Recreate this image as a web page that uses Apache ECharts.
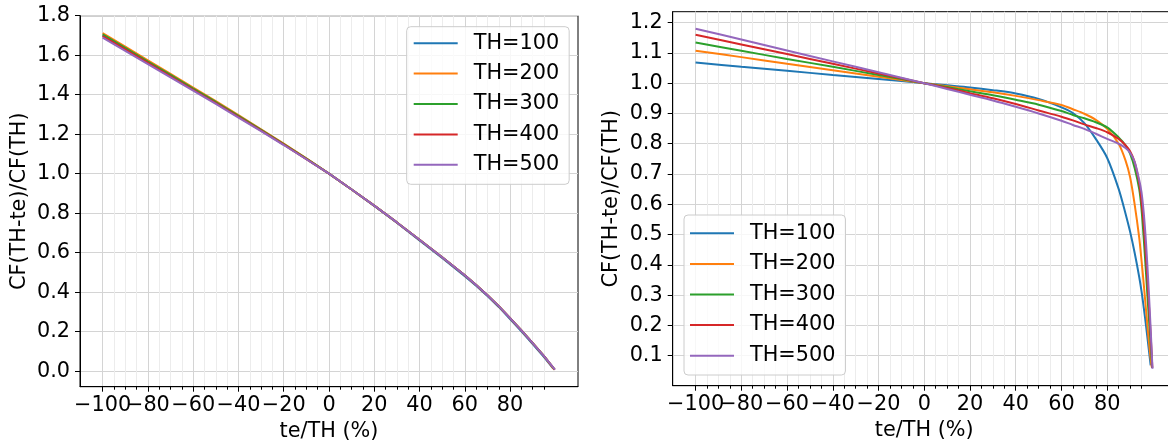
<!DOCTYPE html>
<html><head><meta charset="utf-8">
<script src="https://cdn.jsdelivr.net/npm/echarts@6/dist/echarts.min.js"></script>
<style>html,body{margin:0;padding:0;background:#fff}#c{width:1168px;height:445px}</style>
</head><body><div id="c"></div>
<script>
// ---------- data ----------
const seriesNames = ['TH=100', 'TH=200', 'TH=300', 'TH=400', 'TH=500'];
const colors = ['#1f77b4', '#ff7f0e', '#2ca02c', '#d62728', '#9467bd'];

const xMajorTicks = [-100, -80, -60, -40, -20, 0, 20, 40, 60, 80];
const xLabelsA = [-100];                                   // drawn on one axis
const xLabelsB = [-80, -60, -40, -20, 0, 20, 40, 60, 80];  // drawn on the other (they touch −100)
const xMinorTicks = [-100, -95, -90, -85, -80, -75, -70, -65, -60, -55, -50, -45, -40, -35, -30, -25, -20, -15, -10, -5,
  0, 5, 10, 15, 20, 25, 30, 35, 40, 45, 50, 55, 60, 65, 70, 75, 80, 85, 90, 95];
const yTicksLeft = [0, 0.2, 0.4, 0.6, 0.8, 1.0, 1.2, 1.4, 1.6, 1.8];
const yTicksRight = [0.1, 0.2, 0.3, 0.4, 0.5, 0.6, 0.7, 0.8, 0.9, 1.0, 1.1, 1.2];

// left panel
const leftXBase = [-100, -90, -80, -70, -60, -50, -40, -30, -20, -10, 0, 10, 20, 30, 40, 50, 60, 65, 70, 75, 80, 85, 90, 95];
const leftEndX = [99, 99.5, 99.67, 99.75, 99.8];
const leftTH100 = [1.700, 1.632, 1.564, 1.496, 1.428, 1.360, 1.290, 1.220, 1.148, 1.075, 1.0, 0.920, 0.837, 0.751, 0.662, 0.573, 0.481, 0.432, 0.380, 0.325, 0.264, 0.201, 0.137, 0.071, 0.014];
const leftTH200 = [1.712, 1.643, 1.574, 1.505, 1.436, 1.367, 1.296, 1.225, 1.152, 1.077, 1.0, 0.920, 0.838, 0.753, 0.665, 0.577, 0.485, 0.436, 0.384, 0.329, 0.268, 0.206, 0.142, 0.076, 0.008];
const leftTH300 = [1.705, 1.637, 1.568, 1.500, 1.431, 1.363, 1.293, 1.222, 1.150, 1.076, 1.0, 0.920, 0.838, 0.753, 0.665, 0.577, 0.485, 0.436, 0.384, 0.329, 0.268, 0.206, 0.142, 0.076, 0.008];
const leftTH400 = [1.697, 1.629, 1.561, 1.493, 1.425, 1.357, 1.288, 1.218, 1.147, 1.074, 1.0, 0.920, 0.838, 0.753, 0.665, 0.577, 0.485, 0.436, 0.384, 0.329, 0.268, 0.206, 0.142, 0.076, 0.008];
const leftTH500 = [1.689, 1.622, 1.555, 1.488, 1.421, 1.353, 1.284, 1.215, 1.145, 1.073, 1.0, 0.920, 0.838, 0.753, 0.665, 0.577, 0.485, 0.436, 0.384, 0.329, 0.268, 0.206, 0.142, 0.076, 0.008];

// right panel
const rightXBase = [-100, -80, -60, -40, -20, 0, 10, 20, 30, 40, 50, 60, 65, 70, 75, 80, 85, 88, 90, 92, 94, 95, 96, 97, 98];
const rightTailX = [[99], [99, 99.5], [99, 99.67], [99, 99.75], [99, 99.8]];
const rightTH100 = [1.068, 1.054, 1.041, 1.027, 1.014, 1.0, 0.993, 0.986, 0.977, 0.966, 0.948, 0.920, 0.901, 0.868, 0.816, 0.753, 0.651, 0.57, 0.51, 0.44, 0.36, 0.313, 0.258, 0.198, 0.133, 0.068];
const rightTH200 = [1.107, 1.086, 1.064, 1.043, 1.021, 1.0, 0.990, 0.980, 0.970, 0.958, 0.944, 0.928, 0.914, 0.899, 0.879, 0.849, 0.80, 0.745, 0.69, 0.60, 0.49, 0.415, 0.335, 0.25, 0.165, 0.09, 0.062];
const rightTH300 = [1.134, 1.107, 1.080, 1.054, 1.027, 1.0, 0.987, 0.973, 0.96, 0.945, 0.929, 0.908, 0.895, 0.884, 0.871, 0.854, 0.821, 0.795, 0.767, 0.72, 0.65, 0.585, 0.485, 0.37, 0.25, 0.14, 0.06];
const rightTH400 = [1.160, 1.128, 1.096, 1.064, 1.032, 1.0, 0.984, 0.967, 0.95, 0.931, 0.91, 0.889, 0.877, 0.864, 0.852, 0.838, 0.816, 0.795, 0.775, 0.74, 0.67, 0.61, 0.53, 0.42, 0.30, 0.17, 0.06];
const rightTH500 = [1.180, 1.144, 1.108, 1.072, 1.036, 1.0, 0.981, 0.962, 0.943, 0.922, 0.90, 0.876, 0.862, 0.849, 0.833, 0.816, 0.800, 0.786, 0.77, 0.74, 0.68, 0.64, 0.57, 0.47, 0.34, 0.19, 0.057];

const leftY = [leftTH100, leftTH200, leftTH300, leftTH400, leftTH500];
const rightY = [rightTH100, rightTH200, rightTH300, rightTH400, rightTH500];

// ---------- styling ----------
const FONT = 'DejaVu Sans';
const FS = 20.8;
const MAJOR_GRID = '#d4d4d4';
const MINOR_GRID = '#ececec';
const fmtX = v => (v < 0 ? '\u2212' + Math.abs(v) : String(v));
const fmtY = v => v.toFixed(1);

function minorX(g) {
  return {
    gridIndex: g, type: 'value', min: -110, max: 110, position: 'bottom',
    axisLine: { show: false, onZero: false },
    axisTick: { show: true, length: 3, customValues: xMinorTicks, lineStyle: { color: '#000', width: 1 } },
    axisLabel: { customValues: xLabelsA, formatter: fmtX, color: '#000', fontSize: FS, fontFamily: FONT, margin: 8,
      hideOverlap: false, showMinLabel: true, showMaxLabel: true },
    splitLine: { show: true, lineStyle: { color: MINOR_GRID, width: 1 } }
  };
}
function majorX(g) {
  return {
    gridIndex: g, type: 'value', min: -110, max: 110, position: 'bottom',
    axisLine: { show: true, onZero: false, lineStyle: { color: '#000', width: 1 } },
    axisTick: { show: true, length: 5, customValues: xMajorTicks, lineStyle: { color: '#000', width: 1 } },
    axisLabel: { customValues: xLabelsB, formatter: fmtX, color: '#000', fontSize: FS, fontFamily: FONT, margin: 8,
      hideOverlap: false, showMinLabel: true, showMaxLabel: true },
    splitLine: { show: true, lineStyle: { color: MAJOR_GRID, width: 1 } },
    name: 'te/TH (%)', nameLocation: 'middle', nameGap: 34,
    nameTextStyle: { color: '#000', fontSize: FS, fontFamily: FONT }
  };
}
function yAx(g, min, max, ticks, gap) {
  return {
    gridIndex: g, type: 'value', min: min, max: max,
    axisLine: { show: true, onZero: false, lineStyle: { color: '#000', width: 1 } },
    axisTick: { show: true, length: 5, customValues: ticks, lineStyle: { color: '#000', width: 1 } },
    axisLabel: { customValues: ticks, formatter: fmtY, color: '#000', fontSize: FS, fontFamily: FONT, margin: 10,
      showMinLabel: true, showMaxLabel: true },
    splitLine: { show: true, lineStyle: { color: MAJOR_GRID, width: 1 } },
    name: 'CF(TH-te)/CF(TH)', nameLocation: 'middle', nameGap: gap, nameRotate: 90,
    nameTextStyle: { color: '#000', fontSize: FS, fontFamily: FONT }
  };
}
function legendAt(left, top, pad, gap) {
  return {
    orient: 'vertical', left: left, top: top, padding: pad, itemGap: gap,
    itemWidth: 44, itemHeight: 2, icon: 'rect', data: seriesNames,
    textStyle: { color: '#000', fontSize: FS, fontFamily: FONT, lineHeight: 21, padding: [0, 0, 0, 11] },
    backgroundColor: 'rgba(255,255,255,0.8)', borderColor: '#cccccc', borderWidth: 1, borderRadius: 4
  };
}

const series = [];
seriesNames.forEach((name, i) => {
  const lx = leftXBase.concat([leftEndX[i]]);
  series.push({
    name: name, type: 'line', xAxisIndex: 1, yAxisIndex: 0,
    data: lx.map((x, k) => [x, leftY[i][k]]),
    showSymbol: false, smooth: false,
    lineStyle: { color: colors[i], width: 2 }, itemStyle: { color: colors[i] }
  });
});
seriesNames.forEach((name, i) => {
  const rx = rightXBase.concat(rightTailX[i]);
  series.push({
    name: name, type: 'line', xAxisIndex: 3, yAxisIndex: 1,
    data: rx.map((x, k) => [x, rightY[i][k]]),
    showSymbol: false, smooth: 0.3,
    lineStyle: { color: colors[i], width: 2 }, itemStyle: { color: colors[i] }
  });
});

const chart = echarts.init(document.getElementById('c'), null, { renderer: 'canvas' });
chart.setOption({
  animation: false,
  backgroundColor: '#fff',
  grid: [
    { left: 80, top: 15.7, right: 590, bottom: 58.3, show: true, borderColor: '#000', borderWidth: 1, backgroundColor: 'transparent', outerBoundsMode: 'none', containLabel: false },
    { left: 672.7, top: 11.7, right: -7.8, bottom: 59.3, show: true, borderColor: '#000', borderWidth: 1, backgroundColor: 'transparent', outerBoundsMode: 'none', containLabel: false }
  ],
  xAxis: [minorX(0), majorX(0), minorX(1), majorX(1)],
  yAxis: [
    yAx(0, -0.079, 1.8, yTicksLeft, 50),
    yAx(1, 0.001, 1.236, yTicksRight, 51)
  ],
  legend: [
    legendAt(406.7, 26.7, [6, 10, 9, 7], 9.4),
    legendAt(684, 215, [7.8, 10, 8.8, 6], 9.6)
  ],
  series: series
});
</script>
</body></html>
